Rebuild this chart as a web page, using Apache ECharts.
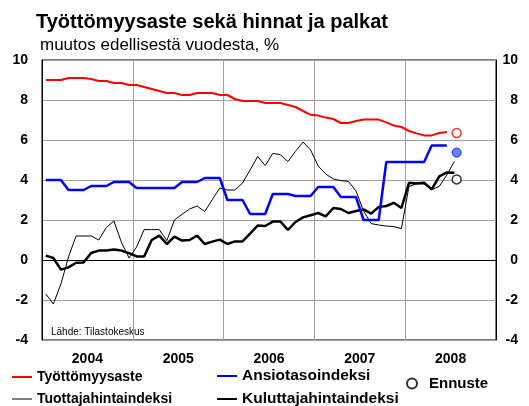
<!DOCTYPE html>
<html>
<head>
<meta charset="utf-8">
<script src="https://cdn.jsdelivr.net/npm/echarts@6/dist/echarts.min.js"></script>
<style>
  html, body { margin: 0; padding: 0; background: #fff; }
  #chart { width: 529px; height: 406px; }
</style>
</head>
<body>
<div id="chart"></div>
<script>
// vuodet (x-akselin nimiöt), kuukausittaiset arvot alkaen tammikuusta 2004
var years = ['2004', '2005', '2006', '2007', '2008'];

// Työttömyysaste, %
var unemployment = [9.0, 9.0, 9.0, 9.1, 9.1, 9.1, 9.05, 8.95, 8.95, 8.85, 8.85, 8.75,
  8.75, 8.65, 8.55, 8.45, 8.35, 8.35, 8.25, 8.25, 8.35, 8.35, 8.35, 8.25,
  8.25, 8.05, 7.95, 7.95, 7.95, 7.85, 7.85, 7.85, 7.75, 7.65, 7.45, 7.26,
  7.22, 7.12, 7.05, 6.85, 6.85, 6.95, 7.02, 7.02, 7.02, 6.88, 6.72, 6.65,
  6.45, 6.33, 6.23, 6.23, 6.35, 6.4];

// Ansiotasoindeksi
var wages = [4.0, 4.0, 4.0, 3.5, 3.5, 3.5, 3.7, 3.7, 3.7, 3.9, 3.9, 3.9,
  3.6, 3.6, 3.6, 3.6, 3.6, 3.6, 3.9, 3.9, 3.9, 4.1, 4.1, 4.1,
  3.0, 3.0, 3.0, 2.3, 2.3, 2.3, 3.3, 3.3, 3.3, 3.2, 3.2, 3.2,
  3.65, 3.65, 3.65, 3.15, 3.15, 3.15, 2.0, 2.0, 2.0, 4.9, 4.9, 4.9,
  4.9, 4.9, 4.9, 5.72, 5.72, 5.72];

// Tuottajahintaindeksi
var producerPrices = [-1.7, -2.2, -1.2, 0.15, 1.2, 1.2, 1.2, 1.0, 1.63, 1.95, 0.88, 0.1,
  0.65, 1.52, 1.52, 1.52, 0.97, 2.0, 2.28, 2.55, 2.7, 2.42, 3.02, 3.6,
  3.5, 3.5, 3.85, 4.5, 5.18, 4.72, 5.33, 5.27, 4.92, 5.43, 5.9, 5.5,
  4.7, 4.3, 4.05, 3.97, 3.93, 3.45, 2.45, 1.82, 1.75, 1.7, 1.67, 1.57,
  3.68, 3.82, 3.8, 3.52, 3.68, 4.25, 4.93];

// Kuluttajahintaindeksi
var consumerPrices = [0.22, 0.1, -0.48, -0.37, -0.14, -0.12, 0.35, 0.47, 0.47, 0.52, 0.47, 0.34,
  0.18, 0.18, 1.0, 1.22, 0.8, 1.17, 0.97, 1.0, 1.22, 0.8, 0.92, 1.02,
  0.8, 0.93, 0.93, 1.32, 1.72, 1.7, 1.92, 1.93, 1.5, 1.9, 2.13, 2.24,
  2.35, 2.18, 2.6, 2.55, 2.35, 2.45, 2.53, 2.32, 2.65, 2.7, 2.86, 2.6,
  3.86, 3.82, 3.86, 3.53, 4.18, 4.38, 4.36];

// Ennuste vuodelle 2008 (työttömyys, ansiot, kuluttajahinnat)
var forecastMonth = 54.8;
var forecastValues = [6.35, 5.37, 4.03];

var font = 'Liberation Sans, Arial, sans-serif';

function toPoints(arr) {
  return arr.map(function (v, i) { return [i + 0.5, v]; });
}

var myChart = echarts.init(document.getElementById('chart'));
var option = {
  animation: false,
  backgroundColor: '#fff',
  textStyle: { fontFamily: font },
  title: [
    {
      text: 'Työttömyysaste sekä hinnat ja palkat',
      left: 36, top: 12, padding: 0,
      textStyle: { fontSize: 20, fontWeight: 'bold', color: '#000', fontFamily: font }
    },
    {
      text: 'muutos edellisestä vuodesta, %',
      left: 40, top: 37, padding: 0,
      textStyle: { fontSize: 17, fontWeight: 'normal', color: '#000', fontFamily: font }
    }
  ],
  graphic: [
    {
      type: 'text', left: 51, top: 327,
      style: { text: 'Lähde: Tilastokeskus', fontSize: 10, fill: '#000', fontFamily: font }
    }
  ],
  legend: [
    {
      data: ['Työttömyysaste'], left: 12, top: 370, padding: 0,
      icon: 'rect', itemWidth: 20, itemHeight: 2,
      textStyle: { fontSize: 14, fontWeight: 'bold', color: '#000' }
    },
    {
      data: ['Ansiotasoindeksi'], left: 217, top: 368, padding: 0,
      icon: 'rect', itemWidth: 20, itemHeight: 2,
      textStyle: { fontSize: 15.5, fontWeight: 'bold', color: '#000' }
    },
    {
      data: [{ name: 'Ennuste', itemStyle: { color: '#fff', borderColor: '#000', borderWidth: 2 } }],
      left: 406, top: 376, padding: 0,
      icon: 'circle', itemWidth: 24, itemHeight: 10,
      textStyle: { fontSize: 15, fontWeight: 'bold', color: '#000' }
    },
    {
      data: [{ name: 'Tuottajahintaindeksi', itemStyle: { color: '#808080' } }],
      left: 12, top: 392, padding: 0,
      icon: 'rect', itemWidth: 20, itemHeight: 2,
      textStyle: { fontSize: 14, fontWeight: 'bold', color: '#000' }
    },
    {
      data: ['Kuluttajahintaindeksi'], left: 217, top: 391, padding: 0,
      icon: 'rect', itemWidth: 20, itemHeight: 2,
      textStyle: { fontSize: 15.5, fontWeight: 'bold', color: '#000' }
    }
  ],
  grid: {
    left: 42, right: 33, top: 60, bottom: 66,
    show: true, borderColor: '#000', borderWidth: 1
  },
  xAxis: [
    {
      type: 'value', min: 0, max: 60, interval: 12, position: 'bottom',
      axisLabel: { show: false },
      axisTick: { show: false },
      axisLine: { show: true, onZero: true, lineStyle: { color: '#000', width: 1 } },
      splitLine: { show: true, lineStyle: { color: '#a0a0a0', width: 1 } }
    },
    {
      type: 'category', data: years, position: 'bottom', offset: 0, boundaryGap: true,
      axisLine: { show: false },
      axisTick: { show: false },
      splitLine: { show: false },
      axisLabel: { fontSize: 14, fontWeight: 'bold', color: '#000', margin: 12 }
    }
  ],
  yAxis: [
    {
      type: 'value', min: -4, max: 10, interval: 2, position: 'left',
      axisLine: { show: true, lineStyle: { color: '#000' } },
      axisTick: { show: false },
      axisLabel: { fontSize: 14, fontWeight: 'bold', color: '#000', margin: 14 },
      splitLine: { show: true, lineStyle: { color: '#a0a0a0', width: 1 } }
    },
    {
      type: 'value', min: -4, max: 10, interval: 2, position: 'right',
      axisLine: { show: true, lineStyle: { color: '#000' } },
      axisTick: { show: false },
      axisLabel: { fontSize: 14, fontWeight: 'bold', color: '#000', margin: 22, align: 'right' },
      splitLine: { show: false }
    }
  ],
  series: [
    {
      name: 'Tuottajahintaindeksi', type: 'line', showSymbol: false,
      data: toPoints(producerPrices),
      lineStyle: { color: '#000', width: 1 }, itemStyle: { color: '#000' }
    },
    {
      name: 'Kuluttajahintaindeksi', type: 'line', showSymbol: false,
      data: toPoints(consumerPrices),
      lineStyle: { color: '#000', width: 2.5 }, itemStyle: { color: '#000' }
    },
    {
      name: 'Ansiotasoindeksi', type: 'line', showSymbol: false,
      data: toPoints(wages),
      lineStyle: { color: '#0000ff', width: 2.5 }, itemStyle: { color: '#0000ff' }
    },
    {
      name: 'Työttömyysaste', type: 'line', showSymbol: false,
      data: toPoints(unemployment),
      lineStyle: { color: '#ff0000', width: 2 }, itemStyle: { color: '#ff0000' }
    },
    {
      name: 'Ennuste', type: 'scatter', symbol: 'circle', symbolSize: 9, z: 5,
      itemStyle: { color: '#fff', borderColor: '#000', borderWidth: 1.5 },
      data: [
        { value: [forecastMonth, forecastValues[0]], itemStyle: { color: '#fff', borderColor: '#ff0000', borderWidth: 1.5 } },
        { value: [forecastMonth, forecastValues[1]], itemStyle: { color: '#3366ff', borderColor: '#0000ff', borderWidth: 1 } },
        { value: [forecastMonth, forecastValues[2]], itemStyle: { color: '#fff', borderColor: '#000', borderWidth: 1.5 } }
      ]
    }
  ]
};
myChart.setOption(option);
</script>
</body>
</html>
